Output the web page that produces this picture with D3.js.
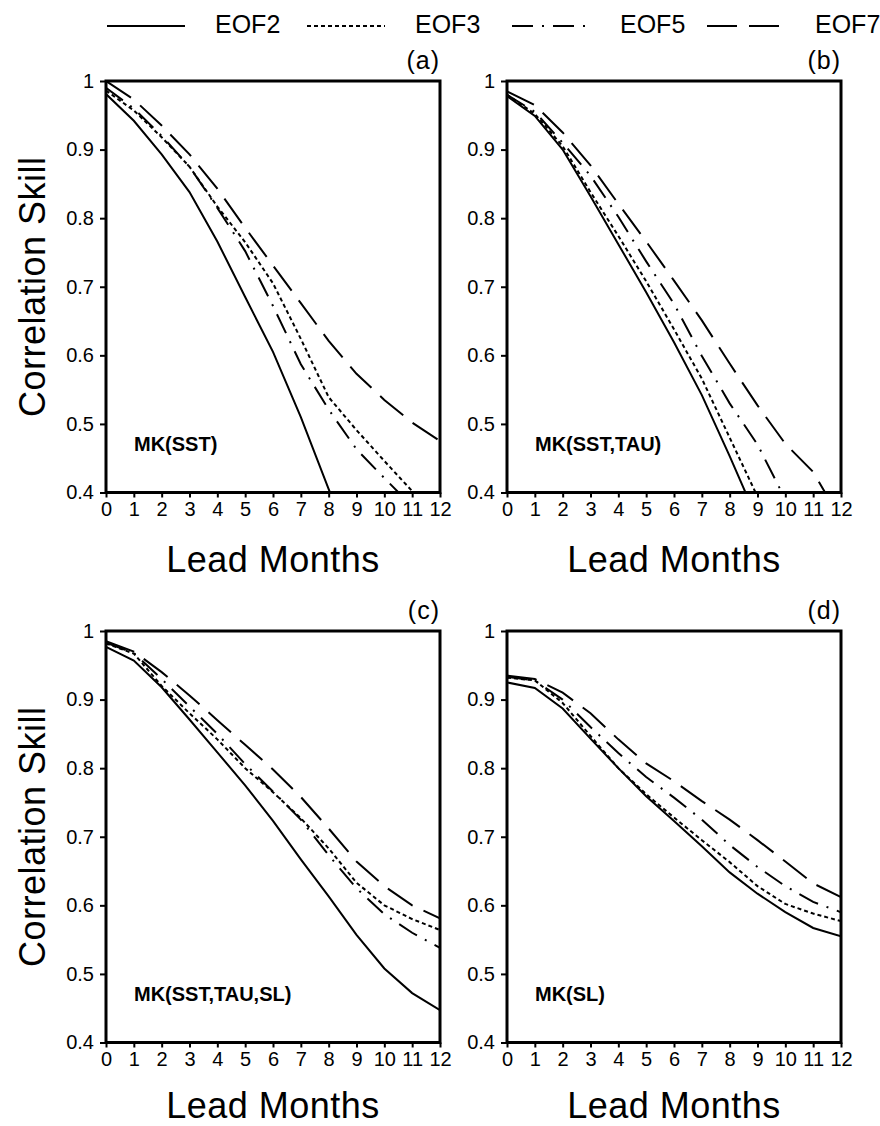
<!DOCTYPE html>
<meta charset="utf-8">
<head>
    <title>Correlation skill vs lead months</title>
    <script src="https://d3js.org/d3.v7.min.js"></script>
    <style>
        body { margin: 0; background: #fff; }
        svg text { font-family: "Liberation Sans", Arial, sans-serif; fill: #000; }
        .y-axis .tick text { font-size: 20px; }
        .x-axis .tick text { font-size: 20px; }
    </style>
</head>
<body>
<div id="chart"></div>
<script>
    // lead months (x)
    var months = [0, 1, 2, 3, 4, 5, 6, 7, 8, 9, 10, 11, 12];
    var yTicks = [0.4, 0.5, 0.6, 0.7, 0.8, 0.9, 1];
    var seriesNames = ["EOF2", "EOF3", "EOF5", "EOF7"];

    // (a) MK(SST)
    var a_eof2 = [0.981, 0.942, 0.893, 0.838, 0.766, 0.685, 0.605, 0.51, 0.405, 0.30, null, null, null];
    var a_eof3 = [0.986, 0.957, 0.918, 0.875, 0.817, 0.765, 0.705, 0.624, 0.539, 0.491, 0.446, 0.402, 0.365];
    var a_eof5 = [0.99, 0.96, 0.92, 0.875, 0.815, 0.752, 0.672, 0.587, 0.521, 0.463, 0.421, 0.38, null];
    var a_eof7 = [1.0, 0.973, 0.935, 0.893, 0.843, 0.786, 0.731, 0.676, 0.621, 0.573, 0.535, 0.502, 0.475];

    // (b) MK(SST,TAU)
    var b_eof2 = [0.978, 0.949, 0.90, 0.832, 0.762, 0.692, 0.619, 0.542, 0.453, 0.36, null, null, null];
    var b_eof3 = [0.98, 0.952, 0.905, 0.838, 0.774, 0.708, 0.638, 0.566, 0.48, 0.394, null, null, null];
    var b_eof5 = [0.98, 0.955, 0.91, 0.862, 0.802, 0.737, 0.675, 0.599, 0.53, 0.47, 0.39, null, null];
    var b_eof7 = [0.985, 0.965, 0.925, 0.877, 0.821, 0.766, 0.709, 0.651, 0.588, 0.527, 0.471, 0.43, 0.36];

    // (c) MK(SST,TAU,SL)
    var c_eof2 = [0.977, 0.957, 0.918, 0.871, 0.823, 0.775, 0.723, 0.667, 0.613, 0.557, 0.508, 0.472, 0.447];
    var c_eof3 = [0.982, 0.967, 0.92, 0.88, 0.842, 0.80, 0.765, 0.727, 0.683, 0.633, 0.60, 0.58, 0.564];
    var c_eof5 = [0.983, 0.968, 0.93, 0.89, 0.85, 0.806, 0.766, 0.725, 0.673, 0.625, 0.587, 0.56, 0.538];
    var c_eof7 = [0.985, 0.97, 0.94, 0.906, 0.87, 0.834, 0.798, 0.758, 0.712, 0.664, 0.628, 0.60, 0.581];

    // (d) MK(SL)
    var d_eof2 = [0.925, 0.917, 0.887, 0.843, 0.80, 0.759, 0.723, 0.686, 0.648, 0.617, 0.59, 0.567, 0.555];
    var d_eof3 = [0.932, 0.928, 0.895, 0.847, 0.80, 0.762, 0.728, 0.695, 0.663, 0.628, 0.602, 0.588, 0.577];
    var d_eof5 = [0.933, 0.928, 0.90, 0.86, 0.822, 0.787, 0.757, 0.725, 0.688, 0.656, 0.628, 0.605, 0.59];
    var d_eof7 = [0.935, 0.93, 0.91, 0.88, 0.842, 0.807, 0.781, 0.752, 0.725, 0.695, 0.664, 0.632, 0.612];

    var panelLetters = ["(a)", "(b)", "(c)", "(d)"];
    var panelNames = ["MK(SST)", "MK(SST,TAU)", "MK(SST,TAU,SL)", "MK(SL)"];
    var panelData = [
        [a_eof2, a_eof3, a_eof5, a_eof7],
        [b_eof2, b_eof3, b_eof5, b_eof7],
        [c_eof2, c_eof3, c_eof5, c_eof7],
        [d_eof2, d_eof3, d_eof5, d_eof7]
    ];

    // line styles per series
    var dashes = [null, "4,3", "21,9,2,9", "30,12"];

    var width = 880, height = 1126;
    var plotW = 334, plotH = 411.5;
    var lefts = [106, 507, 106, 507];
    var tops = [81, 81, 631, 631];

    var svg = d3.select("#chart")
        .append("svg")
        .attr("width", width)
        .attr("height", height);

    var x = d3.scaleLinear().domain([0, 12]).range([0, plotW]);
    var y = d3.scaleLinear().domain([0.4, 1]).range([plotH, 0]);

    var line = d3.line()
        .defined(function (d) { return d.v != null; })
        .x(function (d) { return x(d.m); })
        .y(function (d) { return y(d.v); });

    svg.append("defs").append("clipPath")
        .attr("id", "plotclip")
        .append("rect")
        .attr("width", plotW)
        .attr("height", plotH);

    panelData.forEach(function (series, p) {
        var g = svg.append("g")
            .attr("transform", "translate(" + lefts[p] + "," + tops[p] + ")");

        // y axis
        g.append("g")
            .attr("class", "y-axis")
            .call(d3.axisLeft(y).tickValues(yTicks).tickSize(6).tickPadding(6)
                .tickFormat(function (d) { return d === 1 ? "1" : d3.format(".1f")(d); }))
            .call(function (a) { a.select(".domain").remove(); })
            .selectAll("line").attr("stroke-width", 2);

        // x axis
        g.append("g")
            .attr("class", "x-axis")
            .attr("transform", "translate(0," + plotH + ")")
            .call(d3.axisBottom(x).tickValues(months).tickSize(5).tickPadding(4))
            .call(function (a) { a.select(".domain").remove(); })
            .selectAll("line").attr("stroke-width", 2);

        // curves
        var lines = g.append("g").attr("clip-path", "url(#plotclip)");
        series.forEach(function (vals, i) {
            var pts = months.map(function (m, k) { return {m: m, v: vals[k]}; });
            lines.append("path")
                .datum(pts)
                .attr("d", line)
                .attr("fill", "none")
                .attr("stroke", "#000")
                .attr("stroke-width", 2)
                .attr("stroke-dasharray", dashes[i]);
        });

        // frame
        g.append("rect")
            .attr("width", plotW)
            .attr("height", plotH)
            .attr("fill", "none")
            .attr("stroke", "#000")
            .attr("stroke-width", 3);

        g.append("text")
            .attr("x", plotW)
            .attr("y", -12)
            .attr("text-anchor", "end")
            .style("font-size", "25px")
            .style("letter-spacing", "1px")
            .text(panelLetters[p]);

        g.append("text")
            .attr("x", 28)
            .attr("y", y(0.46))
            .style("font-size", "20px")
            .style("font-weight", "bold")
            .text(panelNames[p]);

        g.append("text")
            .attr("x", plotW / 2)
            .attr("y", plotH + (p < 2 ? 79 : 75))
            .attr("text-anchor", "middle")
            .style("font-size", "36px")
            .style("letter-spacing", "0.5px")
            .text("Lead Months");

        if (p % 2 === 0) {
            g.append("text")
                .attr("transform", "translate(" + (45 - lefts[p]) + "," + (plotH / 2) + ") rotate(-90)")
                .attr("text-anchor", "middle")
                .style("font-size", "36px")
                .style("letter-spacing", "0.5px")
                .text("Correlation Skill");
        }
    });

    // legend across the top
    var legendX = [107, 307, 512, 707];
    var legend = svg.append("g").attr("class", "legend");
    seriesNames.forEach(function (name, i) {
        legend.append("line")
            .attr("x1", legendX[i])
            .attr("x2", legendX[i] + 78)
            .attr("y1", 26)
            .attr("y2", 26)
            .attr("stroke", "#000")
            .attr("stroke-width", 2)
            .attr("stroke-dasharray", dashes[i]);
        legend.append("text")
            .attr("x", legendX[i] + 108)
            .attr("y", 33)
            .style("font-size", "25px")
            .text(name);
    });
</script>
</body>
